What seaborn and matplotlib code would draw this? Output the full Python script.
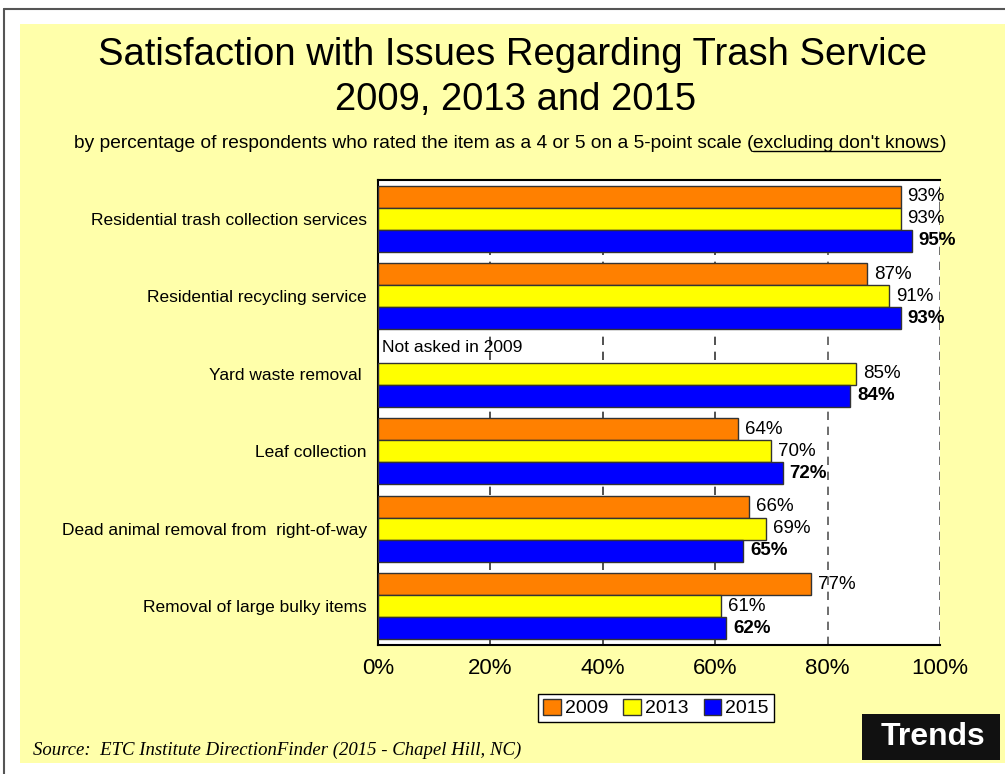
import matplotlib
matplotlib.use("Agg")
import matplotlib.pyplot as plt
from matplotlib.lines import Line2D
from matplotlib.patches import Rectangle
import numpy as np
import pandas as pd
import seaborn as sns

# data
items = ["Residential trash collection services",
         "Residential recycling service",
         "Yard waste removal ",
         "Leaf collection",
         "Dead animal removal from  right-of-way",
         "Removal of large bulky items"]
years = ["2009", "2013", "2015"]
vals_2009 = [93, 87, np.nan, 64, 66, 77]
vals_2013 = [93, 91, 85, 70, 69, 61]
vals_2015 = [95, 93, 84, 72, 65, 62]
colors = ["#FF8000", "#FFFF00", "#0000FF"]

df = pd.DataFrame({
    "item": items * 3,
    "year": [y for y in years for _ in items],
    "pct": vals_2009 + vals_2013 + vals_2015,
})

sns.set_style("white")
plt.rcParams['font.family'] = ['Liberation Sans', 'DejaVu Sans']
plt.rcParams['text.color'] = 'black'
plt.rcParams['xtick.color'] = 'black'
plt.rcParams['ytick.color'] = 'black'

W, H = 1005, 774
fig = plt.figure(figsize=(W / 100, H / 100), dpi=100)
fig.patch.set_facecolor("white")

# outer frame and yellow panel
fig.add_artist(Rectangle((20/W, 1-763/H), 985/W, 739/H,
                         transform=fig.transFigure, facecolor="#FFFFAA",
                         edgecolor="none", zorder=0))
fig.add_artist(Line2D([4/W, 1], [1-9/H, 1-9/H], color="#555555", lw=1.5))
fig.add_artist(Line2D([4/W, 4/W], [0, 1-9/H], color="#555555", lw=1.5))

ax = fig.add_axes([378/W, 1-645/H, 562/W, 465/H])
ax.set_facecolor("white")

sns.barplot(data=df, x="pct", y="item", hue="year", hue_order=years,
            palette=colors, saturation=1, orient="h", width=0.85, gap=0,
            edgecolor="#333333", linewidth=1, ax=ax, zorder=3)

ax.set_xlim(0, 100)
ax.set_ylim(5.5, -0.5)
ax.set_xticks([0, 20, 40, 60, 80, 100])
ax.set_xticklabels(["0%", "20%", "40%", "60%", "80%", "100%"], fontsize=16)
ax.tick_params(axis="x", length=0, pad=9)
ax.tick_params(axis="y", length=0, pad=8, labelsize=12.5)
ax.set_xlabel("")
ax.set_ylabel("")
for x in [20, 40, 60, 80, 100]:
    ax.axvline(x, color="#333333" if x < 80 else "#555555", lw=1.2,
               ls=(0, (5, 4)), zorder=1)
for side in ["left", "bottom", "top"]:
    ax.spines[side].set_color("black")
    ax.spines[side].set_linewidth(1.5)
ax.spines["right"].set_visible(False)

# value labels, 2015 in bold
for cont, yr in zip(ax.containers, years):
    ax.bar_label(cont, fmt="%.0f%%", padding=5, fontsize=13.5, color="black",
                 fontweight="bold" if yr == "2015" else "normal")

ax.text(0.8, 1.76, "Not asked in 2009", fontsize=12.5, ha="left", va="bottom")

ax.legend(loc="center", bbox_to_anchor=(656/W, 1-708/H),
          bbox_transform=fig.transFigure, ncol=3, fontsize=14,
          frameon=True, fancybox=False, edgecolor="black", framealpha=1,
          handlelength=0.9, handleheight=0.9, handletextpad=0.2,
          columnspacing=0.8, borderpad=0.25)

# titles
fig.text(512/W, 1-55/H, "Satisfaction with Issues Regarding Trash Service",
         ha="center", va="center", fontsize=27.5)
fig.text(516/W, 1-100/H, "2009, 2013 and 2015",
         ha="center", va="center", fontsize=27.5)

# subtitle with underlined part
parts = ["by percentage of respondents who rated the item as a 4 or 5 on a 5-point scale (",
         "excluding don't knows", ")"]
fig.canvas.draw()
renderer = fig.canvas.get_renderer()
texts = [fig.text(0, 1-143/H, p, ha="left", va="center", fontsize=13.8) for p in parts]
widths = [t.get_window_extent(renderer).width for t in texts]
x0 = 510 - sum(widths) / 2
for t, w in zip(texts, widths):
    t.set_x(x0 / W)
    x0 += w
fig.canvas.draw()
bb = texts[1].get_window_extent(renderer)
fig.add_artist(Line2D([bb.x0/W, bb.x1/W], [(bb.y0 + 1)/H, (bb.y0 + 1)/H],
                      color="black", lw=1))

fig.text(33/W, 1-755/H, "Source:  ETC Institute DirectionFinder (2015 - Chapel Hill, NC)",
         family=["Liberation Serif", "DejaVu Serif"], style="italic",
         fontsize=13.5, ha="left", va="baseline")

fig.add_artist(Rectangle((862/W, 1-760/H), 138/W, 46/H, transform=fig.transFigure,
                         facecolor="#111111", edgecolor="none", zorder=2))
fig.text(933/W, 1-737/H, "Trends", color="white", fontweight="bold",
         fontsize=23, ha="center", va="center", zorder=3)

fig.savefig("out.png", dpi=100)
